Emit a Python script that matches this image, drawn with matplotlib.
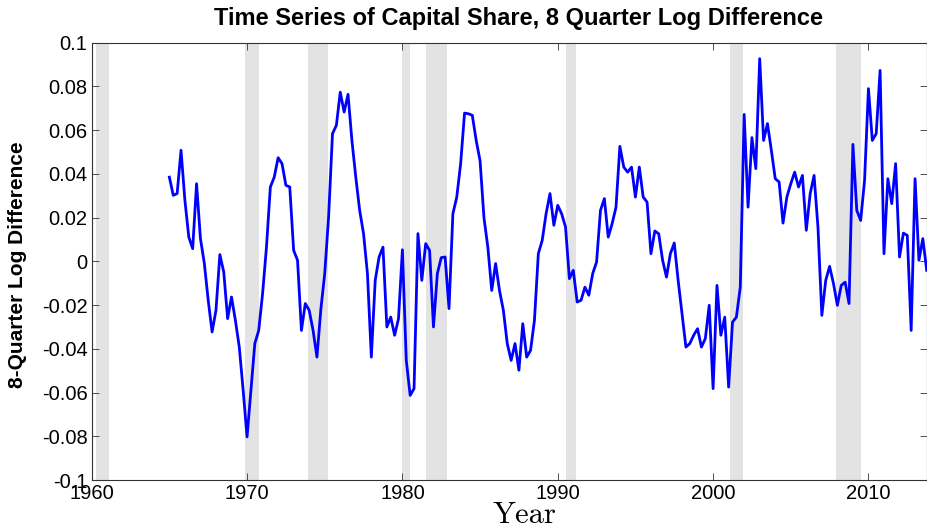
import numpy as np
import matplotlib
matplotlib.use("Agg")
import matplotlib.pyplot as plt

# Quarterly series, 1965Q1 .. 2013Q4
start_year = 1965.0
values = [
    0.0385, 0.0302, 0.0310, 0.0508, 0.0279, 0.0111, 0.0058, 0.0355, 0.0104, -0.0009,
    -0.0178, -0.0323, -0.0224, 0.0031, -0.0049, -0.0262, -0.0163, -0.0270, -0.0392, -0.0590,
    -0.0803, -0.0590, -0.0376, -0.0316, -0.0148, 0.0065, 0.0340, 0.0385, 0.0474, 0.0447,
    0.0348, 0.0340, 0.0050, 0.0005, -0.0316, -0.0193, -0.0224, -0.0316, -0.0438, -0.0220,
    -0.0056, 0.0203, 0.0584, 0.0622, 0.0774, 0.0683, 0.0764, 0.0553, 0.0385, 0.0233,
    0.0126, -0.0056, -0.0438, -0.0087, 0.0020, 0.0065, -0.0300, -0.0255, -0.0338, -0.0262,
    0.0053, -0.0453, -0.0613, -0.0582, 0.0127, -0.0087, 0.0081, 0.0050, -0.0300, -0.0056,
    0.0017, 0.0020, -0.0216, 0.0218, 0.0294, 0.0447, 0.0678, 0.0675, 0.0668, 0.0553,
    0.0460, 0.0200, 0.0065, -0.0133, -0.0010, -0.0133, -0.0224, -0.0376, -0.0453, -0.0376,
    -0.0498, -0.0285, -0.0438, -0.0407, -0.0270, 0.0035, 0.0096, 0.0218, 0.0310, 0.0165,
    0.0256, 0.0218, 0.0157, -0.0079, -0.0041, -0.0186, -0.0178, -0.0118, -0.0155, -0.0056,
    -0.0003, 0.0233, 0.0287, 0.0111, 0.0172, 0.0248, 0.0526, 0.0431, 0.0408, 0.0431,
    0.0294, 0.0431, 0.0294, 0.0271, 0.0035, 0.0139, 0.0126, 0.0005, -0.0072, 0.0035,
    0.0084, -0.0087, -0.0239, -0.0392, -0.0376, -0.0338, -0.0308, -0.0392, -0.0353, -0.0201,
    -0.0582, -0.0110, -0.0338, -0.0255, -0.0575, -0.0278, -0.0255, -0.0118, 0.0672, 0.0248,
    0.0566, 0.0424, 0.0927, 0.0553, 0.0630, 0.0508, 0.0378, 0.0363, 0.0175, 0.0294,
    0.0355, 0.0408, 0.0340, 0.0393, 0.0142, 0.0310, 0.0393, 0.0157, -0.0247, -0.0087,
    -0.0023, -0.0102, -0.0201, -0.0110, -0.0095, -0.0193, 0.0535, 0.0233, 0.0187, 0.0370,
    0.0790, 0.0553, 0.0584, 0.0873, 0.0035, 0.0378, 0.0264, 0.0447, 0.0020, 0.0129,
    0.0119, -0.0316, 0.0378, 0.0005, 0.0104, -0.0041,
]

# Recession periods (start, end) in fractional years
rec_start = [1960.3, 1969.9, 1973.9, 1980.0, 1981.5, 1990.5, 2001.1, 2007.9]
rec_end = [1961.1, 1970.8, 1975.2, 1980.5, 1982.9, 1991.2, 2001.9, 2009.5]

xticks = [1960, 1970, 1980, 1990, 2000, 2010]
yticks = [-0.1, -0.08, -0.06, -0.04, -0.02, 0, 0.02, 0.04, 0.06, 0.08, 0.1]
ytick_labels = ["-0.1", "-0.08", "-0.06", "-0.04", "-0.02", "0",
                "0.02", "0.04", "0.06", "0.08", "0.1"]

years = start_year + 0.25 * np.arange(len(values))

plt.rcParams['font.family'] = ['Liberation Sans', 'DejaVu Sans']

fig = plt.figure(figsize=(9.27, 5.31), dpi=100)
ax = fig.add_axes([91.7 / 927, 1 - 480 / 531, (926.7 - 91.7) / 927, (480 - 42.7) / 531])

for s, e in zip(rec_start, rec_end):
    ax.axvspan(s, e, color='#e3e3e3', lw=0, zorder=0)

ax.plot(years, values, color='#0000ff', lw=2.0, zorder=3)

ax.set_xlim(1960, years[-1])
ax.set_ylim(-0.1, 0.1)
ax.set_xticks(xticks)
ax.set_xticklabels([str(t) for t in xticks])
ax.set_yticks(yticks)
ax.set_yticklabels(ytick_labels)

for sp in ax.spines.values():
    sp.set_color('#333333')
    sp.set_linewidth(0.8)

ax.tick_params(direction='in', length=5, width=0.6, color='#333333',
               labelsize=14.5, top=True, right=True, pad=3)

fig.text((216 + 820) / 2 / 927, 1 - 18 / 531,
         "Time Series of Capital Share, 8 Quarter Log Difference",
         ha='center', va='center', fontsize=17, fontweight='bold')

fig.text(18 / 927, 1 - 265 / 531, "8-Quarter Log Difference",
         rotation=90, ha='center', va='center', fontsize=15, fontweight='bold')

fig.text(525 / 927, 1 - 515 / 531, "Year", ha='center', va='center',
         fontsize=22, family=['cmr10', 'DejaVu Serif'])

fig.savefig("out.png", dpi=100)
